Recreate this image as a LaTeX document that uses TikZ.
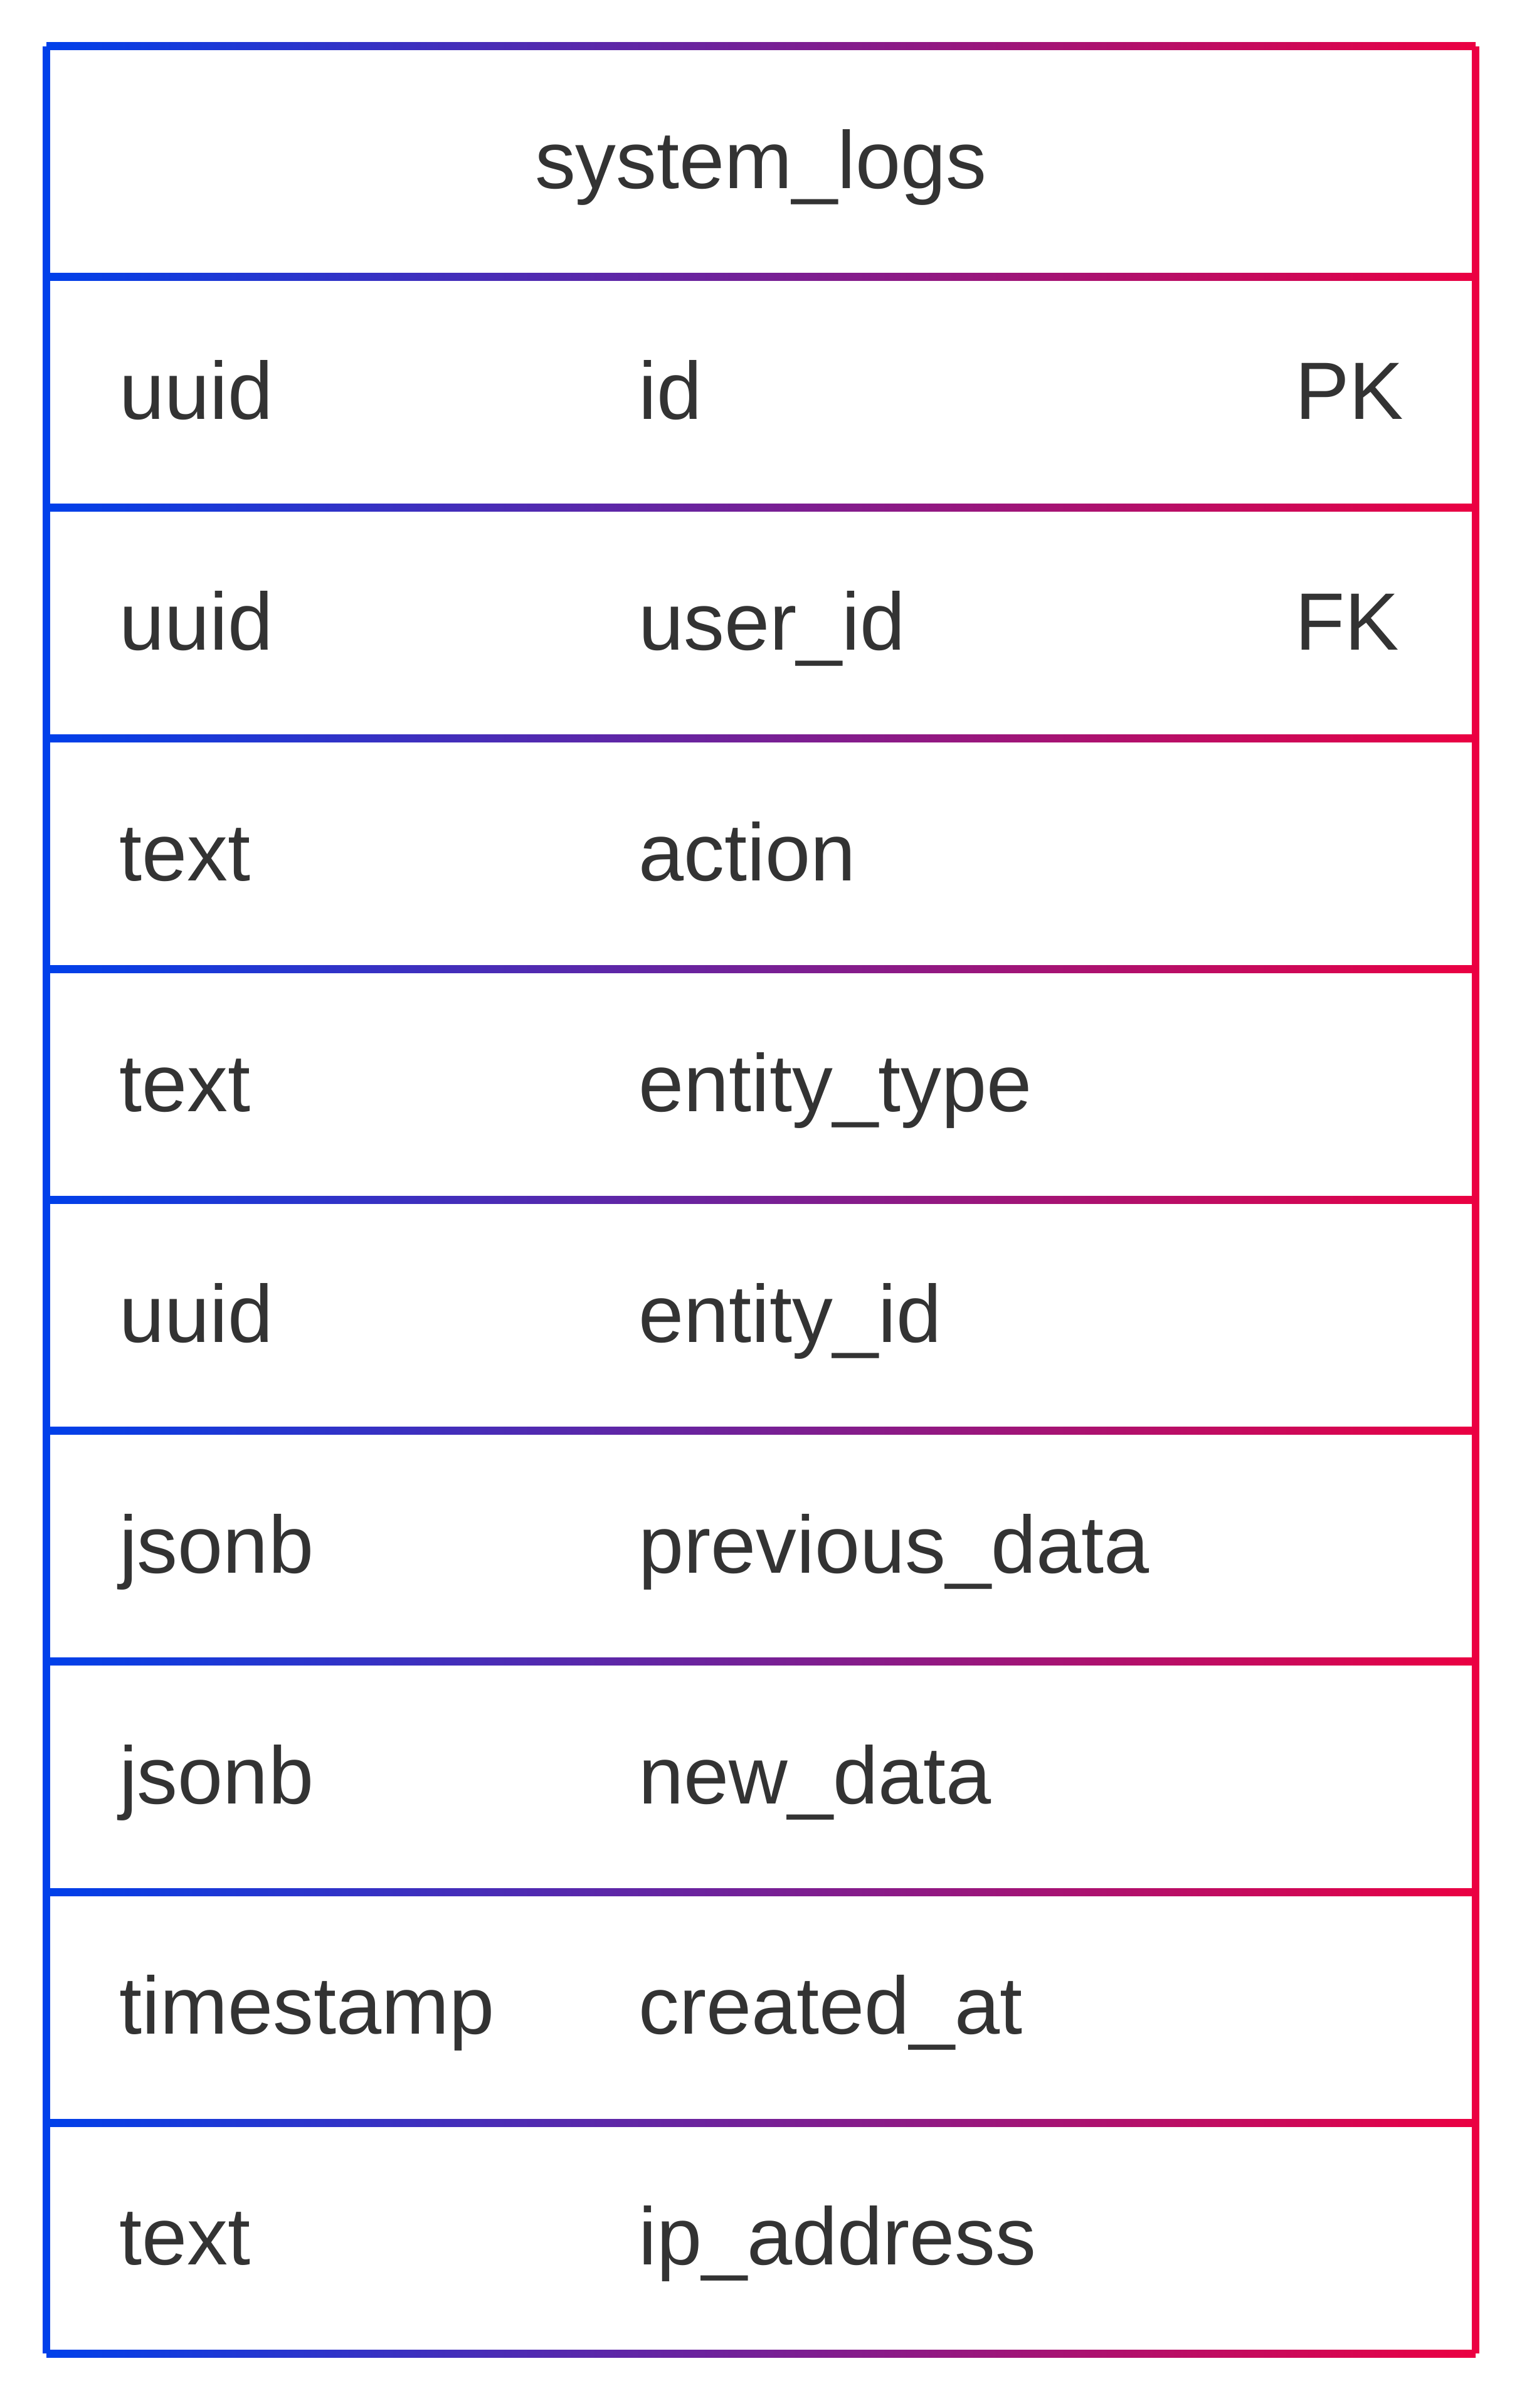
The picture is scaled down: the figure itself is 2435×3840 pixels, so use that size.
\documentclass[tikz,border=0pt]{standalone}
\usepackage{fontspec}
\setmainfont{Liberation Sans}
\definecolor{erblue}{HTML}{0040EA}
\definecolor{erred}{HTML}{EB0042}
\definecolor{ertext}{HTML}{333333}
\begin{document}
\begin{tikzpicture}[x=1pt,y=-1pt,
  cell/.style={inner sep=0pt, anchor=base west, text=ertext, font=\fontsize{129.7}{156}\selectfont},
  title/.style={cell, anchor=base},
  rule/.style={left color=erblue, right color=erred}]
\useasboundingbox (0,0) rectangle (2435,3840);
\fill[white] (0,0) rectangle (2435,3840);
% horizontal rules with gradient
\foreach \i in {0,...,10} {
  \shade[rule] (74,{74+367.9*\i-6}) rectangle (2353,{74+367.9*\i+6});
}
% vertical borders
\fill[erblue] (68,74) rectangle (80,3753);
\fill[erred] (2347,74) rectangle (2359,3753);
% header
\node[title] (title) at (1213.5,300.7) {system\_logs};
% rows
\node[cell] (t1) at (190,668.6) {uuid};
\node[cell] (n1) at (1018,668.6) {id};
\node[cell] (k1) at (2065,668.6) {PK};
\node[cell] (t2) at (190,1036.5) {uuid};
\node[cell] (n2) at (1018,1036.5) {user\_id};
\node[cell] (k2) at (2065,1036.5) {FK};
\node[cell] (t3) at (190,1404.4) {text};
\node[cell] (n3) at (1018,1404.4) {action};
\node[cell] (t4) at (190,1772.3) {text};
\node[cell] (n4) at (1018,1772.3) {entity\_type};
\node[cell] (t5) at (190,2140.2) {uuid};
\node[cell] (n5) at (1018,2140.2) {entity\_id};
\node[cell] (t6) at (190,2508.1) {jsonb};
\node[cell] (n6) at (1018,2508.1) {previous\_data};
\node[cell] (t7) at (190,2876.0) {jsonb};
\node[cell] (n7) at (1018,2876.0) {new\_data};
\node[cell] (t8) at (190,3243.9) {timestamp};
\node[cell] (n8) at (1018,3243.9) {created\_at};
\node[cell] (t9) at (190,3611.8) {text};
\node[cell] (n9) at (1018,3611.8) {ip\_address};
\end{tikzpicture}
\end{document}
